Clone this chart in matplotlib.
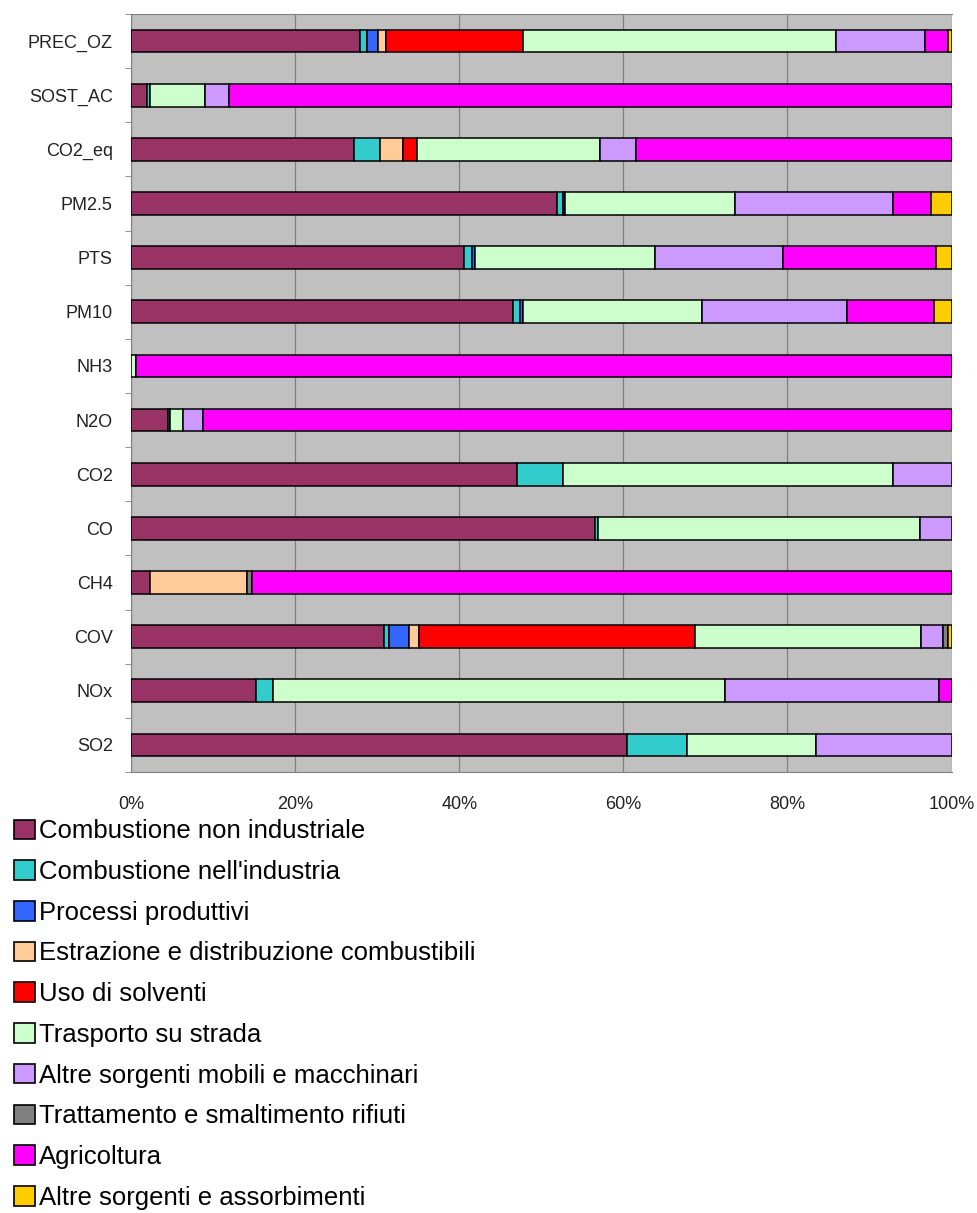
import numpy as np
import matplotlib.pyplot as plt
from matplotlib.patches import Patch

plt.rcParams['font.family'] = ['Liberation Sans', 'DejaVu Sans']

# categorie dal basso verso l'alto
categorie = ['SO2', 'NOx', 'COV', 'CH4', 'CO', 'CO2', 'N2O', 'NH3',
             'PM10', 'PTS', 'PM2.5', 'CO2_eq', 'SOST_AC', 'PREC_OZ']

# quote percentuali per macrosettore (stimate dal grafico)
comb_non_ind = [60.4, 15.2, 30.8, 2.3, 56.5, 47.1, 4.5, 0.0, 46.6, 40.6, 51.9, 27.2, 1.9, 27.9]
comb_ind = [7.3, 2.1, 0.7, 0.0, 0.4, 5.5, 0.3, 0.0, 0.8, 0.9, 0.7, 3.1, 0.4, 0.9]
processi = [0, 0, 2.4, 0, 0, 0, 0, 0, 0.4, 0.4, 0.3, 0, 0, 1.3]
estrazione = [0, 0, 1.2, 11.9, 0, 0, 0, 0, 0, 0, 0, 2.9, 0, 1.0]
solventi = [0, 0, 33.6, 0, 0, 0, 0, 0, 0, 0, 0, 1.6, 0, 16.7]
trasporto = [15.8, 55.1, 27.6, 0, 39.3, 40.2, 1.5, 0.6, 21.8, 21.9, 20.7, 22.4, 6.7, 38.1]
altre_mobili = [16.5, 26.1, 2.6, 0, 3.8, 7.2, 2.5, 0, 17.6, 15.6, 19.2, 4.3, 3.0, 10.9]
trattamento = [0, 0, 0.7, 0.5, 0, 0, 0, 0, 0, 0, 0, 0, 0, 0]
agricoltura = [0, 1.5, 0, 85.3, 0, 0, 91.2, 99.4, 10.6, 18.7, 4.7, 38.5, 88.0, 2.8]
altre_sorgenti = [0, 0, 0.4, 0, 0, 0, 0, 0, 2.2, 1.9, 2.5, 0, 0, 0.4]

settori = ['Combustione non industriale', "Combustione nell'industria",
           'Processi produttivi', 'Estrazione e distribuzione combustibili',
           'Uso di solventi', 'Trasporto su strada',
           'Altre sorgenti mobili e macchinari', 'Trattamento e smaltimento rifiuti',
           'Agricoltura', 'Altre sorgenti e assorbimenti']
colori = ['#993366', '#33CCCC', '#3366FF', '#FFCC99', '#FF0000',
          '#CCFFCC', '#CC99FF', '#808080', '#FF00FF', '#FFCC00']

valori = np.array([comb_non_ind, comb_ind, processi, estrazione, solventi,
                   trasporto, altre_mobili, trattamento, agricoltura, altre_sorgenti], dtype=float)
valori = valori / valori.sum(axis=0) * 100  # 100% in pila

fig = plt.figure(figsize=(9.77, 12.13), dpi=100)
ax = fig.add_axes([0.134, 0.3636, 0.840, 0.6249])
ax.set_facecolor('#C0C0C0')

y = np.arange(len(categorie))
left = np.zeros(len(categorie))
for i in range(len(settori)):
    idx = valori[i] > 0
    ax.barh(y[idx], valori[i][idx], left=left[idx], height=0.42,
            color=colori[i], edgecolor='black', linewidth=1.1, zorder=3)
    left += valori[i]

ax.set_xlim(0, 100)
ax.set_ylim(-0.5, len(categorie) - 0.5)
ax.set_xticks([0, 20, 40, 60, 80, 100])
ax.set_xticklabels(['0%', '20%', '40%', '60%', '80%', '100%'])
ax.set_yticks(y)
ax.set_yticklabels(categorie)
ax.set_yticks(np.arange(-0.5, len(categorie), 1), minor=True)
ax.tick_params(axis='y', which='major', length=0, pad=13, labelsize=13, labelcolor='#222222')
ax.tick_params(axis='y', which='minor', length=4, color='#808080')
ax.tick_params(axis='x', length=0, pad=17, labelsize=13, labelcolor='#222222')
ax.grid(axis='x', color='#808080', linewidth=0.9, zorder=0)
for s in ax.spines.values():
    s.set_color('#808080')
ax.spines['right'].set_visible(False)

handles = [Patch(facecolor=c, edgecolor='black', linewidth=1.2) for c in colori]
fig.legend(handles, settori, loc='upper left', bbox_to_anchor=(0.004, 0.333),
           frameon=False, fontsize=18.5, handlelength=0.8, handleheight=0.8,
           handletextpad=0.15, labelspacing=0.65, borderaxespad=0)

plt.savefig('out.png', dpi=100)
plt.close()
